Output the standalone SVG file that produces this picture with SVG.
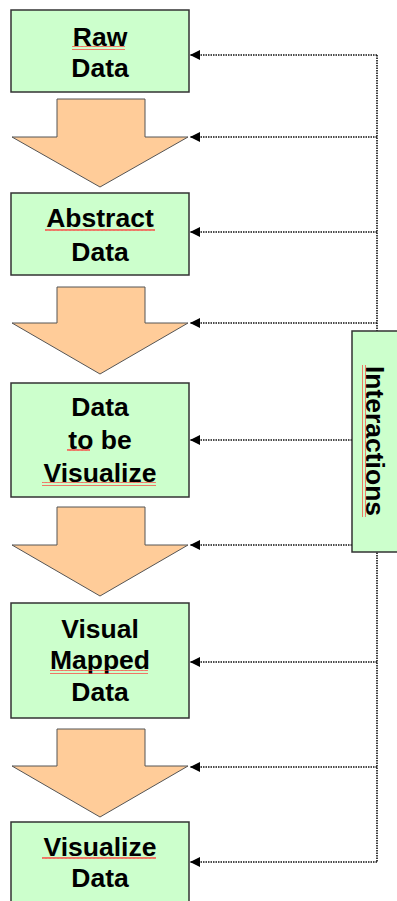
<svg xmlns="http://www.w3.org/2000/svg" width="397" height="901" viewBox="0 0 397 901">
  <defs>
    <style>
      .box { fill: #ccffcc; stroke: #333333; stroke-width: 1.5; }
      .flow { fill: #ffcc99; stroke: #555555; stroke-width: 1; }
      .label { font-family: "Liberation Sans", Arial, sans-serif; font-weight: bold; font-size: 26.5px; fill: #000000; text-anchor: middle; }
      .link { fill: none; stroke: #111111; stroke-width: 1.6; stroke-dasharray: 1.5 1; }
    </style>
    <marker id="head" viewBox="0 0 10 10" refX="10" refY="5" markerWidth="10" markerHeight="10" markerUnits="userSpaceOnUse" orient="auto">
      <path d="M0,0 L10,5 L0,10 z" fill="#000000"/>
    </marker>
    <!-- wavy spell-check underline, horizontal and vertical -->
    <pattern id="wave" width="4" height="4" patternUnits="userSpaceOnUse">
      <path d="M0,3 L1,1 L2,3 L3,1 L4,3" fill="none" stroke="#ff3333" stroke-width="0.8"/>
    </pattern>
    <pattern id="wave-v" width="4" height="4" patternUnits="userSpaceOnUse">
      <path d="M1,0 L3,1 L1,2 L3,3 L1,4" fill="none" stroke="#ff3333" stroke-width="0.8"/>
    </pattern>
  </defs>

  <rect width="397" height="901" fill="#ffffff"/>

  <!-- feedback connectors -->
  <g id="connectors">
    <path class="link" d="M377,55 V862"/>
    <path class="link" d="M377,55 H190" marker-end="url(#head)"/>
    <path class="link" d="M377,137 H190" marker-end="url(#head)"/>
    <path class="link" d="M377,232 H190" marker-end="url(#head)"/>
    <path class="link" d="M377,323 H190" marker-end="url(#head)"/>
    <path class="link" d="M352,440 H190" marker-end="url(#head)"/>
    <path class="link" d="M352,545 H190" marker-end="url(#head)"/>
    <path class="link" d="M377,662 H190" marker-end="url(#head)"/>
    <path class="link" d="M377,767 H190" marker-end="url(#head)"/>
    <path class="link" d="M377,862 H190" marker-end="url(#head)"/>
  </g>

  <!-- pipeline stages -->
  <g id="raw-data">
    <rect class="box" x="11" y="10" width="178" height="82"/>
    <text class="label" x="100" y="46">Raw</text>
    <text class="label" x="100" y="77">Data</text>
    <rect x="72" y="46" width="53" height="4" fill="url(#wave)"/>
  </g>

  <g id="step-1">
    <polygon class="flow" points="57,99 145,99 145,137 188,137 100,187 12,137 57,137"/>
  </g>

  <g id="abstract-data">
    <rect class="box" x="11" y="193" width="178" height="82"/>
    <text class="label" x="100" y="227">Abstract</text>
    <text class="label" x="100" y="261">Data</text>
    <rect x="45" y="229" width="110" height="4" fill="url(#wave)"/>
  </g>

  <g id="step-2">
    <polygon class="flow" points="57,287 145,287 145,323 188,323 100,374 12,323 57,323"/>
  </g>

  <g id="data-to-be-visualize">
    <rect class="box" x="11" y="383" width="178" height="114"/>
    <text class="label" x="100" y="416">Data</text>
    <text class="label" x="100" y="449">to be</text>
    <text class="label" x="100" y="482">Visualize</text>
    <rect x="67" y="449" width="23" height="4" fill="url(#wave)"/>
    <rect x="42" y="482" width="114" height="4" fill="url(#wave)"/>
  </g>

  <g id="step-3">
    <polygon class="flow" points="57,507 145,507 145,545 188,545 100,596 12,545 57,545"/>
  </g>

  <g id="visual-mapped-data">
    <rect class="box" x="11" y="603" width="178" height="115"/>
    <text class="label" x="100" y="638">Visual</text>
    <text class="label" x="100" y="669">Mapped</text>
    <text class="label" x="100" y="701">Data</text>
    <rect x="50" y="670" width="98" height="4" fill="url(#wave)"/>
  </g>

  <g id="step-4">
    <polygon class="flow" points="57,729 145,729 145,766 188,766 100,817 12,766 57,766"/>
  </g>

  <g id="visualize-data">
    <rect class="box" x="11" y="822" width="178" height="90"/>
    <text class="label" x="100" y="856">Visualize</text>
    <text class="label" x="100" y="887">Data</text>
    <rect x="42" y="856" width="114" height="4" fill="url(#wave)"/>
  </g>

  <g id="interactions">
    <rect class="box" x="352" y="331" width="50" height="221"/>
    <text class="label" x="366" y="441" transform="rotate(90 366 441)">Interactions</text>
    <rect x="362" y="365" width="4" height="152" fill="url(#wave-v)"/>
  </g>
</svg>
